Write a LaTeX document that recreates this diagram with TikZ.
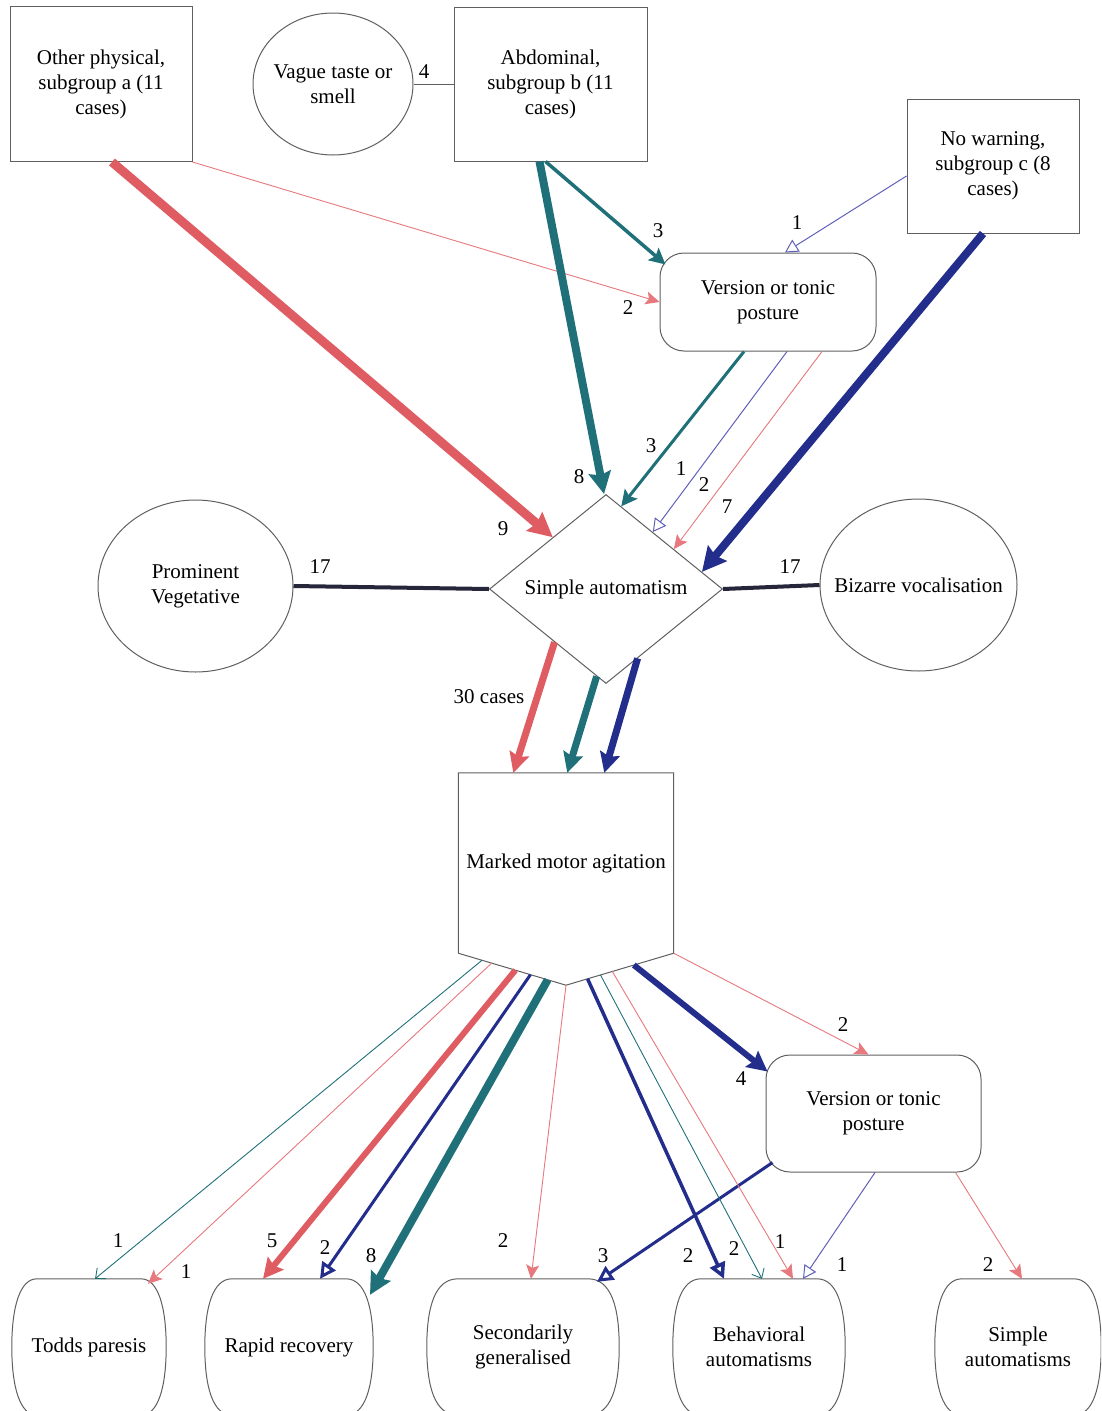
\documentclass[tikz,border=0pt]{standalone}
\usepackage{fontspec}
\setmainfont{Liberation Serif}
\usetikzlibrary{arrows.meta,shapes.geometric,calc}

\definecolor{redc}{RGB}{222,92,98}
\definecolor{redl}{RGB}{230,120,126}
\definecolor{tealc}{RGB}{32,112,122}
\definecolor{bluec}{RGB}{35,45,140}
\definecolor{bluet}{RGB}{95,95,185}
\definecolor{darkc}{RGB}{38,38,58}
\definecolor{bordc}{RGB}{95,95,95}

\tikzset{
  boxn/.style={draw=bordc, line width=1pt, rectangle, align=center, inner sep=0pt},
  ovaln/.style={draw=bordc, line width=1pt, ellipse, align=center, inner xsep=-30pt, inner ysep=0pt},
  roundn/.style={draw=bordc, line width=1pt, rectangle, rounded corners=24pt, align=center, inner sep=0pt},
  plainn/.style={rectangle, align=center, inner sep=0pt},
  lbl/.style={inner sep=0pt},
  heavy/.style 2 args={draw=#1, line width=#2pt},
  hd/.style={-{Stealth[length=#1pt, width=#1pt, inset=3pt]}},
  ho/.style={-{Triangle[open, length=#1pt, width=#1pt]}},
  redthin/.style={draw=redl, line width=0.9pt, -{Stealth[length=14pt, width=13pt, inset=3pt]}},
  bluethin/.style={draw=bluet, line width=1pt, -{Triangle[open, length=13pt, width=14pt]}},
  tealthin/.style={draw=tealc, line width=0.9pt, -{Straight Barb[length=8pt, width=14pt]}},
  darkline/.style={draw=darkc, line width=4pt},
  greyline/.style={draw=bordc, line width=1pt},
}

\begin{document}
\begin{tikzpicture}[x=1pt, y=-1pt, font=\fontsize{21}{25}\selectfont]
\useasboundingbox (0,0) rectangle (1101,1411);
\clip (0,0) rectangle (1101,1411);

% ---- upper row: onset groups ----
\node[boxn, minimum width=182pt, minimum height=155pt] (phys) at (101,84)
  {Other physical,\\ subgroup a (11\\ cases)};
\node[ovaln, minimum width=160pt, minimum height=142pt] (taste) at (333,84)
  {Vague taste or\\ smell};
\node[boxn, minimum width=193pt, minimum height=154pt] (abd) at (550.5,84)
  {Abdominal,\\ subgroup b (11\\ cases)};
\node[boxn, minimum width=172pt, minimum height=134pt] (nowarn) at (993,166)
  {No warning,\\ subgroup c (8\\ cases)};
\node[roundn, minimum width=216pt, minimum height=98pt] (vers1) at (768,302)
  {Version or tonic\\ posture};

% ---- middle ----
\node[draw=bordc, line width=1pt, diamond, aspect=1.23, inner sep=0pt,
      minimum width=233pt, minimum height=189pt] (sa) at (606,589) {Simple automatism};
\node[ovaln, minimum width=195pt, minimum height=172pt] (veg) at (195.5,586)
  {Prominent\\ Vegetative};
\node[ovaln, minimum width=197pt, minimum height=172pt] (biz) at (918.5,585)
  {Bizarre vocalisation};

% ---- pentagon: marked motor agitation ----
\node[plainn, minimum width=215pt, minimum height=180pt] (mma) at (566,863)
  {Marked motor agitation};
\coordinate (mmb) at ($(mma.south)+(0,32)$);
\draw[bordc, line width=1pt] (mma.north west) -- (mma.north east) -- (mma.south east)
  -- (mmb) -- (mma.south west) -- cycle;

\node[roundn, minimum width=215pt, minimum height=117pt] (vers2) at (873.5,1113.5)
  {Version or tonic\\ posture};

% ---- outcome row (barrel outlines) ----
\node[plainn, minimum width=154pt, minimum height=136pt] (todd) at (89,1347) {Todds paresis};
\node[plainn, minimum width=168pt, minimum height=136pt] (rapid) at (289,1347) {Rapid recovery};
\node[plainn, minimum width=192pt, minimum height=136pt] (sec) at (523,1347) {Secondarily\\ generalised};
\node[plainn, minimum width=172pt, minimum height=136pt] (beh) at (759,1347) {Behavioral\\ automatisms};
\node[plainn, minimum width=166pt, minimum height=136pt] (simp) at (1018,1347) {Simple\\ automatisms};

\foreach \n/\f in {todd/52, rapid/57, sec/65, beh/58, simp/56} {
  \draw[bordc, line width=1pt]
    ($(\n.north)+(-\f,0)$) -- ($(\n.north)+(\f,0)$)
    .. controls ($(\n.north east)+(-8,0)$) and ($(\n.east)+(0,-40)$) .. (\n.east)
    .. controls ($(\n.east)+(0,40)$) and ($(\n.south east)+(-8,0)$) .. ($(\n.south)+(\f,0)$)
    -- ($(\n.south)+(-\f,0)$)
    .. controls ($(\n.south west)+(8,0)$) and ($(\n.west)+(0,40)$) .. (\n.west)
    .. controls ($(\n.west)+(0,-40)$) and ($(\n.north west)+(8,0)$) .. cycle;
}

% ---- connectors into the diamond ----
\draw[heavy={redc}{9}, hd=24] ($(phys.south)+(11,0)$) -- ($(sa.north)!0.455!(sa.west)$);
\draw[redthin] (phys.south east) -- (vers1.west);
\draw[greyline] (taste.east) -- (abd.west);
\draw[heavy={tealc}{8}, hd=22] ($(abd.south)+(-11,0)$) -- ($(sa.north)+(-2,0)$);
\draw[heavy={tealc}{3.5}, hd=16] ($(abd.south)+(-5,0)$) -- ($(vers1.north west)+(6,12)$);
\draw[bluethin] ($(nowarn.west)+(0,10)$) -- ($(vers1.north)+(17,0)$);
\draw[heavy={bluec}{8}, hd=24] ($(nowarn.south)+(-10,0)$) -- ($(sa.north)!0.82!(sa.east)$);
\draw[heavy={tealc}{3}, hd=16] ($(vers1.south)+(-24,0)$) -- ($(sa.north)!0.13!(sa.east)$);
\draw[bluethin] ($(vers1.south)+(19,0)$) -- ($(sa.north)!0.40!(sa.east)$);
\draw[redthin] ($(vers1.south)+(54,0)$) -- ($(sa.north)!0.58!(sa.east)$);
\draw[darkline] (veg.east) -- (sa.west);
\draw[darkline] (sa.east) -- (biz.west);

% ---- diamond to marked motor agitation ----
\draw[heavy={redc}{7}, hd=20] ($(sa.west)!0.56!(sa.south)$) -- ($(mma.north west)+(55,0)$);
\draw[heavy={tealc}{7}, hd=20] ($(sa.west)!0.92!(sa.south)$) -- ($(mma.north west)+(109,0)$);
\draw[heavy={bluec}{7}, hd=20] ($(sa.south)!0.27!(sa.east)$) -- ($(mma.north west)+(146,0)$);

% ---- fan-out to outcomes ----
\draw[tealthin] ($(mma.south west)!0.22!(mmb)$) -- ($(todd.north)+(6,0)$);
\draw[redthin] ($(mma.south west)!0.31!(mmb)$) -- ($(todd.north)+(59,5)$);
\draw[heavy={redc}{6}, hd=20] ($(mma.south west)!0.53!(mmb)$) -- ($(rapid.north)+(-26,0)$);
\draw[heavy={bluec}{3}, ho=16] ($(mma.south west)!0.67!(mmb)$) -- ($(rapid.north)+(31,0)$);
\draw[heavy={tealc}{8}, hd=22] ($(mma.south west)!0.83!(mmb)$) -- ($(rapid.north)+(81,16)$);
\draw[redthin] (mmb) -- ($(sec.north)+(8,0)$);
\draw[heavy={bluec}{3}, ho=16] ($(vers2.south west)+(7,-10)$) -- ($(sec.north)+(74,3)$);
\draw[heavy={bluec}{3.5}, ho=16] ($(mmb)!0.2!(mma.south east)$) -- ($(beh.north)+(-35,0)$);
\draw[tealthin] ($(mmb)!0.32!(mma.south east)$) -- ($(beh.north)+(3,0)$);
\draw[redthin] ($(mmb)!0.43!(mma.south east)$) -- ($(beh.north)+(34,0)$);
\draw[bluethin] ($(vers2.south)+(1.5,0)$) -- ($(beh.north)+(44,0)$);
\draw[heavy={bluec}{6}, hd=20] ($(mmb)!0.63!(mma.south east)$) -- ($(vers2.north west)+(2,17)$);
\draw[redthin] (mma.south east) -- ($(vers2.north)+(-5,0)$);
\draw[redthin] ($(vers2.south east)+(-26,0)$) -- ($(simp.north)+(4,0)$);

% ---- counts ----
\foreach \x/\y/\t [count=\i] in {
  503/529/9, 628/308/2, 424/72/4, 579/477/8, 658/231/3, 797/223/1, 727/507/7,
  651/446/3, 681/469/1, 704/485/2, 320/567/17, 790/567/17, 489/697/30 cases,
  118/1241/1, 186/1272/1, 272/1241/5, 325/1248/2, 371/1256/8, 503/1241/2,
  603/1256/3, 688/1256/2, 734/1249/2, 780/1242/1, 842/1265/1, 741/1079/4,
  843/1025/2, 988/1265/2} {
  \node[lbl] (lab\i) at (\x,\y) {\t};
}
\end{tikzpicture}
\end{document}
